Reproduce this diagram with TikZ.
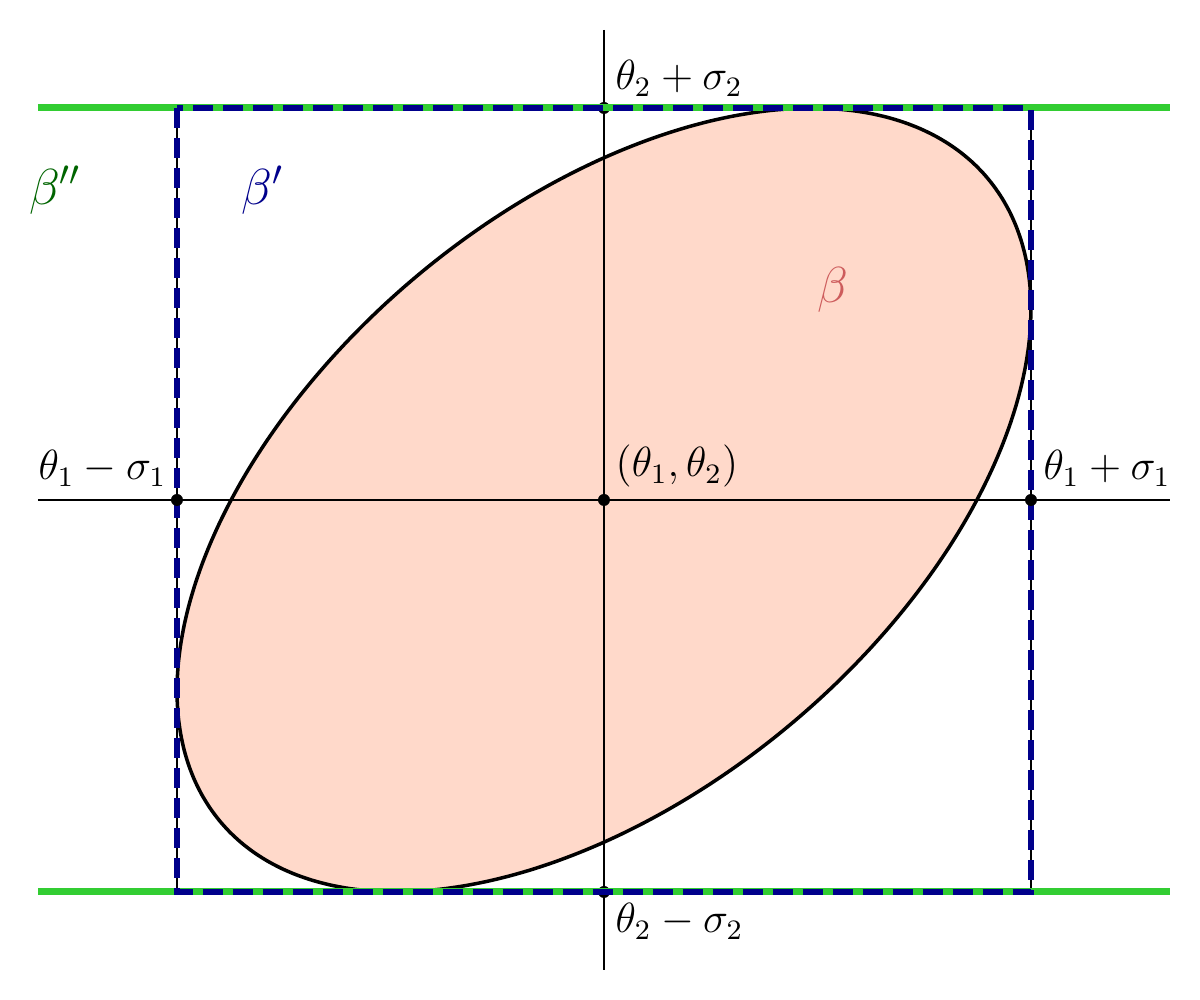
\documentclass[tikz,border=0pt]{standalone}
\usepackage{amsmath,amssymb}
\usepackage{tikz}
\usetikzlibrary{positioning,calc}

\definecolor{bandgreen}{RGB}{50,205,50}
\definecolor{boxblue}{RGB}{0,0,139}
\definecolor{labelgreen}{RGB}{0,100,0}
\definecolor{ellred}{RGB}{205,92,92}
\definecolor{ellfill}{RGB}{255,217,202}

\newcommand{\sigA}{4.27}
\newcommand{\sigB}{3.92}
\newcommand{\rhoAB}{0.487}

\begin{document}
\begin{tikzpicture}[
  axis/.style={black, line width=0.6pt},
  band/.style={bandgreen, line width=2pt},
  boxline/.style={boxblue, line width=1.5pt, dash pattern=on 2mm off 1mm},
  dot/.style={circle, fill=black, inner sep=0pt, minimum size=1.2mm},
  lbl/.style={font=\large, inner sep=0pt},
  greek/.style={font=\Large}
]
\useasboundingbox (-6.04,-5.00) rectangle (5.96,5.00);

% ellipse beta
\fill[ellfill] plot[domain=0:360, samples=120, smooth]
  ({\sigA*cos(\x)}, {\sigB*(\rhoAB*cos(\x)+0.873*sin(\x))}) -- cycle;
\draw[black, line width=1pt] plot[domain=0:360, samples=120, smooth cycle]
  ({\sigA*cos(\x)}, {\sigB*(\rhoAB*cos(\x)+0.873*sin(\x))});

% axes
\coordinate (xl) at (-5.66,0);
\coordinate (xr) at (5.66,0);
\coordinate (yt) at (0,4.70);
\coordinate (yb) at (0,-4.70);
\draw[axis] (xl) -- (xr);
\draw[axis] (yt) -- (yb);

% points
\node[dot] (top) at (0,\sigB) {};
\node[dot] (bot) at (0,-\sigB) {};

% box beta'
\coordinate (nw) at (-\sigA,\sigB);
\coordinate (se) at (\sigA,-\sigB);
\draw[axis] (nw) rectangle (se);

% band beta''
\coordinate (gtl) at (-5.66,\sigB);
\coordinate (gtr) at (5.66,\sigB);
\coordinate (gbl) at (-5.66,-\sigB);
\coordinate (gbr) at (5.66,-\sigB);
\draw[band] (gtl) -- (gtr);
\draw[band] (gbl) -- (gbr);

\draw[boxline] (nw) rectangle (se);

\node[dot] (c) at (0,0) {};
\node[dot] (left) at (-\sigA,0) {};
\node[dot] (right) at (\sigA,0) {};

% labels
\node[lbl, anchor=south west] at ($(top.center)+(0.11,0.11)$) {$\theta_2+\sigma_2$};
\node[lbl, anchor=north west] at ($(bot.center)+(0.11,-0.11)$) {$\theta_2-\sigma_2$};
\node[lbl, anchor=south west] at ($(c.center)+(0.11,0.12)$) {$(\theta_1,\theta_2)$};
\node[lbl, anchor=south east] at ($(left.center)+(-0.10,0.13)$) {$\theta_1-\sigma_1$};
\node[lbl, anchor=south west] at ($(right.center)+(0.12,0.13)$) {$\theta_1+\sigma_1$};

\node[greek, text=labelgreen] (b2) at (-5.49,3.10) {$\beta''$};
\node[greek, text=boxblue] (b1) at (-3.41,3.10) {$\beta'$};
\node[greek, text=ellred] (b0) at (2.29,2.10) {$\beta$};
\end{tikzpicture}
\end{document}
